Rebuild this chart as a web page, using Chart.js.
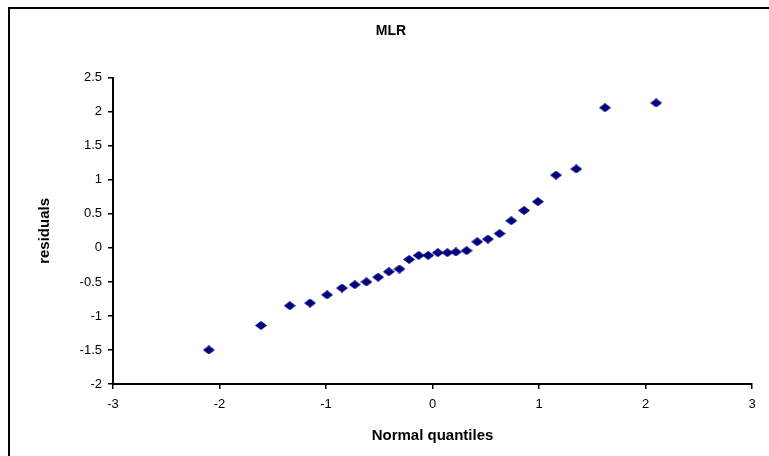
<!DOCTYPE html>
<html lang="en">
<head>
    <meta charset="UTF-8">
    <title>MLR residuals</title>
    <script src="https://cdn.jsdelivr.net/npm/chart.js"></script>
    <style>
        html, body { margin: 0; padding: 0; background: #fff; overflow: hidden; }
        canvas { display: block; }
    </style>
</head>
<body>
    <canvas id="qqChart" width="769" height="456"></canvas>

    <script>
        // Normal quantiles (x) and residuals (y)
        const quantiles = [-2.10, -1.61, -1.34, -1.15, -0.99, -0.85, -0.73, -0.62, -0.51, -0.41,
                           -0.31, -0.22, -0.13, -0.04, 0.05, 0.14, 0.22, 0.32, 0.42, 0.52,
                           0.63, 0.74, 0.86, 0.99, 1.16, 1.35, 1.62, 2.10];
        const residuals = [-1.50, -1.14, -0.85, -0.81, -0.69, -0.59, -0.54, -0.50, -0.43, -0.35,
                           -0.31, -0.17, -0.11, -0.11, -0.07, -0.07, -0.06, -0.04, 0.09, 0.13,
                           0.21, 0.40, 0.55, 0.68, 1.07, 1.16, 2.06, 2.13];
        const xTicks = [-3, -2, -1, 0, 1, 2, 3];
        const yTicks = [-2, -1.5, -1, -0.5, 0, 0.5, 1, 1.5, 2, 2.5];

        const fontFamily = '"Liberation Sans", Arial, sans-serif';

        // flattened diamond marker, like the Excel one
        function diamondMarker(w, h, color) {
            const c = document.createElement('canvas');
            c.width = w;
            c.height = h;
            const g = c.getContext('2d');
            g.fillStyle = color;
            g.beginPath();
            g.moveTo(w / 2, 0);
            g.lineTo(w, h / 2);
            g.lineTo(w / 2, h);
            g.lineTo(0, h / 2);
            g.closePath();
            g.fill();
            return c;
        }

        // outer frame of the chart object
        const framePlugin = {
            id: 'frame',
            beforeDraw(chart) {
                const ctx = chart.ctx;
                ctx.save();
                ctx.fillStyle = '#fff';
                ctx.fillRect(0, 0, chart.width, chart.height);
                ctx.strokeStyle = '#000';
                ctx.lineWidth = 2;
                ctx.strokeRect(9, 8, 900, 600);
                ctx.restore();
            }
        };

        const points = quantiles.map((q, i) => ({ x: q, y: residuals[i] }));

        new Chart(document.getElementById('qqChart'), {
            type: 'scatter',
            data: {
                datasets: [{
                    label: 'residuals',
                    data: points,
                    pointStyle: diamondMarker(12, 9, '#000080'),
                    pointRadius: 6,
                    pointHoverRadius: 6
                }]
            },
            options: {
                responsive: false,
                devicePixelRatio: 1,
                animation: false,
                layout: { padding: { left: 30, right: 17, top: 0, bottom: 0 } },
                plugins: {
                    legend: { display: false },
                    tooltip: { enabled: false },
                    title: {
                        display: true,
                        text: 'MLR',
                        color: '#000',
                        font: { family: fontFamily, size: 14, weight: 'bold' },
                        padding: { top: 23, bottom: 38 }
                    }
                },
                scales: {
                    x: {
                        type: 'linear',
                        min: -3,
                        max: 3,
                        afterFit: (scale) => { scale.height = 72; },
                        afterBuildTicks: (scale) => { scale.ticks = xTicks.map(v => ({ value: v })); },
                        border: { display: true, color: '#000', width: 2 },
                        grid: { display: true, drawOnChartArea: false, drawTicks: true, tickLength: 5, color: '#000', lineWidth: 1.5 },
                        ticks: {
                            color: '#000',
                            padding: 8,
                            maxRotation: 0,
                            font: { family: fontFamily, size: 13 },
                            callback: (v) => String(v)
                        },
                        title: {
                            display: true,
                            text: 'Normal quantiles',
                            color: '#000',
                            font: { family: fontFamily, size: 15, weight: 'bold' },
                            padding: { top: 0, bottom: 11 }
                        }
                    },
                    y: {
                        type: 'linear',
                        min: -2,
                        max: 2.5,
                        afterFit: (scale) => { scale.width = 83; },
                        afterBuildTicks: (scale) => { scale.ticks = yTicks.map(v => ({ value: v })); },
                        border: { display: true, color: '#000', width: 2 },
                        grid: { display: true, drawOnChartArea: false, drawTicks: true, tickLength: 5, color: '#000', lineWidth: 1.5 },
                        ticks: {
                            color: '#000',
                            padding: 6,
                            font: { family: fontFamily, size: 13 },
                            callback: (v) => String(v)
                        },
                        title: {
                            display: true,
                            text: 'residuals',
                            color: '#000',
                            font: { family: fontFamily, size: 15, weight: 'bold' },
                            padding: { top: 6, bottom: 0 }
                        }
                    }
                }
            },
            plugins: [framePlugin]
        });
    </script>
</body>
</html>
